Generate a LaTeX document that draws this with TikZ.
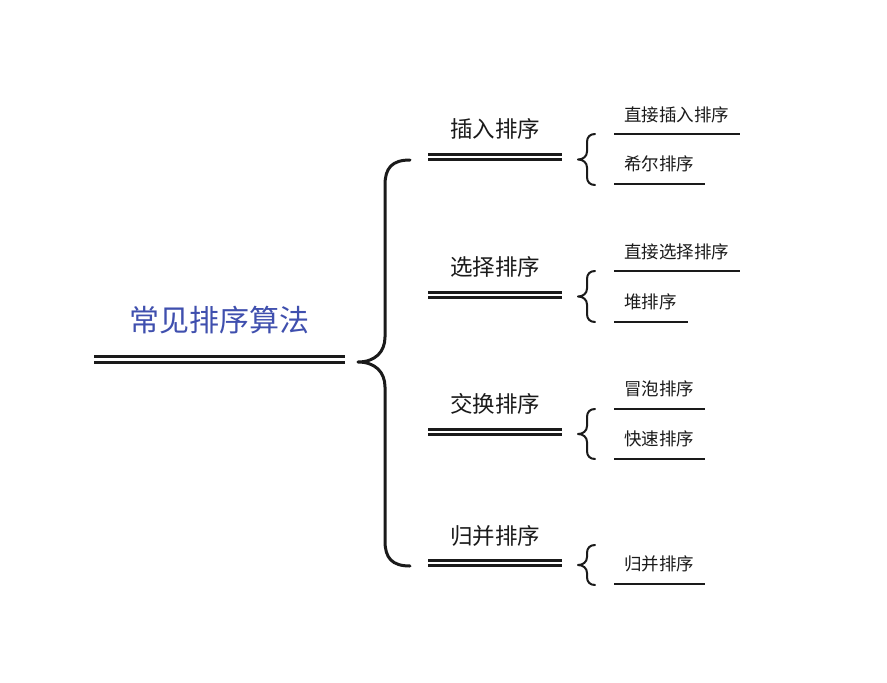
\documentclass[tikz,border=0pt]{standalone}
\usepackage{fontspec}
\setmainfont{Noto Sans CJK SC}
\definecolor{titleblue}{HTML}{3F4FAE}
\definecolor{ink}{HTML}{1A1A1A}
\begin{document}
\begin{tikzpicture}[x=1pt,y=-1pt,
  rule/.style={draw=ink,line width=3pt},
  bigbrace/.style={draw=ink,line width=3pt,line cap=round,line join=round},
  smallbrace/.style={draw=ink,line width=2pt,line cap=round,line join=round},
  leafline/.style={draw=ink,line width=2pt},
  titletext/.style={inner sep=0pt,text=titleblue,font=\fontsize{30}{33}\selectfont},
  midtext/.style={inner sep=0pt,text=ink,font=\fontsize{22.5}{24}\selectfont},
  leaftext/.style={inner sep=0pt,anchor=west,text=ink,font=\fontsize{17.5}{19}\selectfont}]
\useasboundingbox (0,0) rectangle (887,683);
\fill[white] (0,0) rectangle (887,683);

% root
\node[titletext] (root) at (219,320) {常见排序算法};
\draw[rule] (94,356) -- (345,356);
\draw[rule] (94,362) -- (345,362);

% big brace
\coordinate (bt) at (410,160);
\coordinate (bb) at (410,566);
\coordinate (tip) at (358,362);
\draw[bigbrace] (bt) .. controls (392,160) and (385,168) .. (385,185)
  -- (385,337) .. controls (385,352) and (375,362) .. (tip)
  .. controls (375,362) and (385,372) .. (385,387)
  -- (385,541) .. controls (385,558) and (392,566) .. (bb);

% level 2
\node[midtext] (g1) at (495,129) {插入排序};
\node[midtext] (g2) at (495,267) {选择排序};
\node[midtext] (g3) at (495,404) {交换排序};
\node[midtext] (g4) at (495,536) {归并排序};
\foreach \y in {154,292,429,560}{
  \draw[rule] (428,\y) -- (562,\y);
  \draw[rule] (428,\y+5.5) -- (562,\y+5.5);
}

% small braces: top y, bottom y
\foreach \t/\b in {134/185,271/322,409/459,545/585}{
  \pgfmathsetmacro{\m}{(\t+\b)/2}
  \draw[smallbrace] (595,\t) .. controls (590,\t) and (587,\t+3) .. (587,\t+8)
    -- (587,\m-8) .. controls (587,\m-3) and (583,\m) .. (578,\m)
    .. controls (583,\m) and (587,\m+3) .. (587,\m+8)
    -- (587,\b-8) .. controls (587,\b-3) and (590,\b) .. (595,\b);
}

% leaves
\node[leaftext] (l1) at (624,115) {直接插入排序};
\draw[leafline] (614,134) -- (740,134);
\node[leaftext] (l2) at (624,164) {希尔排序};
\draw[leafline] (614,184) -- (705,184);

\node[leaftext] (l3) at (624,252) {直接选择排序};
\draw[leafline] (614,271) -- (740,271);
\node[leaftext] (l4) at (624,302) {堆排序};
\draw[leafline] (614,322) -- (688,322);

\node[leaftext] (l5) at (624,389) {冒泡排序};
\draw[leafline] (614,409) -- (705,409);
\node[leaftext] (l6) at (624,439) {快速排序};
\draw[leafline] (614,459) -- (705,459);

\node[leaftext] (l7) at (624,564) {归并排序};
\draw[leafline] (614,584) -- (705,584);
\end{tikzpicture}
\end{document}
